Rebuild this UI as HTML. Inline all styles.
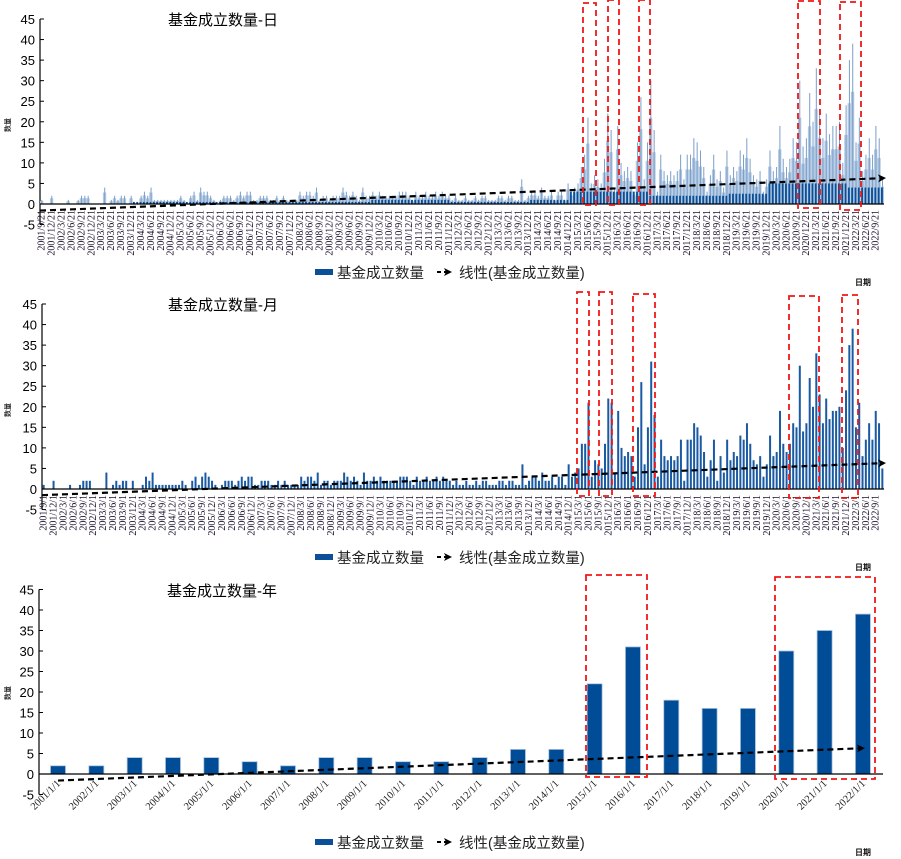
<!DOCTYPE html>
<html><head><meta charset="utf-8">
<style>
html,body{margin:0;padding:0;background:#fff;}
svg{display:block;}
text{font-family:"Liberation Sans","Noto Sans CJK SC",sans-serif;}
.tk{font-size:13px;fill:#000;}
.xl{font-family:"Liberation Serif","Noto Serif CJK SC",serif;font-size:10px;fill:#1a0f2a;}
.yl{font-family:"Liberation Serif",serif;font-size:10.5px;fill:#222;}
.ttl{font-size:15px;fill:#000;}
.lg{font-size:14.5px;fill:#222;}
</style></head>
<body>
<svg id="root" width="901" height="859" viewBox="0 0 901 859" xmlns="http://www.w3.org/2000/svg">
<defs>
<marker id="arr" markerWidth="8" markerHeight="8" refX="6" refY="4" orient="auto" markerUnits="userSpaceOnUse">
<path d="M0,0 L8,4 L0,8 L2,4 z" fill="#000"/>
</marker>
</defs>
</svg>
<script>
// ---- data ----
const yTicks = [-5,0,5,10,15,20,25,30,35,40,45];
const monthStartYear = 2001;
const monthStartMonth = 9;
const monthlyCounts = [
1,0,0,2,
0,0,0,0,1,0,0,1,2,2,2,0,
0,0,0,4,0,1,2,1,2,2,0,2,
0,0,1,3,2,4,1,1,1,1,1,1,
1,1,2,1,0,2,3,1,3,4,3,2,
1,0,1,2,2,2,1,2,3,2,3,3,
1,1,2,2,2,1,1,2,1,2,1,1,
1,1,3,2,3,3,2,4,1,2,2,1,
2,2,2,4,3,2,3,2,1,4,2,2,
3,2,3,2,2,2,2,2,3,3,3,2,
1,3,2,2,3,2,2,3,2,3,2,2,
1,2,1,1,2,1,1,2,1,2,2,1,
1,1,2,2,1,2,2,1,1,6,1,2,
3,3,2,4,2,2,3,1,3,3,1,6,
3,4,5,
11,11,21,3,7,6,5,11,22,21,
4,19,10,8,9,8,3,15,26,6,
15,31,18,3,12,8,7,8,7,8,
12,2,12,12,16,15,13,9,3,7,
12,2,8,4,12,7,9,8,13,12,
16,11,7,6,8,3,6,13,8,9,
19,11,9,11,16,15,30,14,16,27,
20,33,23,16,22,17,19,19,20,10,
24,35,39,15,21,8,12,16,12,19,
16,5];
const dailyPeak = [
1,0,0,2,
0,0,0,0,1,0,0,1,2,2,2,0,
0,0,0,4,0,1,2,1,2,2,0,2,
0,0,2,3,2,4,1,1,1,1,1,1,
1,1,2,1,0,2,3,1,4,3,3,2,
1,0,1,2,2,2,1,2,3,2,3,3,
1,1,2,2,2,1,1,2,1,2,1,1,
1,1,3,2,3,3,2,4,1,2,2,1,
2,2,2,4,3,2,3,2,1,4,2,2,
3,2,3,2,2,2,2,2,3,3,3,2,
1,3,2,2,3,2,2,3,2,3,2,2,
1,2,1,1,2,1,1,2,1,2,2,1,
1,1,2,2,1,2,2,1,1,6,1,2,
3,3,2,4,2,2,3,1,3,3,1,5,
3,4,5,
9,12,21,5,7,6,5,11,22,18,
4,19,10,8,9,8,3,15,26,6,
15,30,18,3,12,8,7,8,7,8,
12,6,12,12,16,15,13,9,3,7,
12,6,8,4,13,7,9,8,13,12,
16,11,7,6,8,3,6,13,8,9,
19,11,9,11,16,15,30,14,16,27,
20,33,23,16,22,17,19,19,20,10,
24,35,39,15,21,8,12,16,12,19,
16,6];
const dailyBaseYears = [2001,2002,2003,2004,2005,2006,2007,2008,2009,2010,2011,2012,2013,2014,2015,2016,2017,2018,2019,2020,2021,2022];
const dailyBase = [0,0,0,0.5,0.5,0.5,0.5,0.5,0.5,1,1,0.5,0.5,1,3,3,2,2,2.5,5,5,4];
const years = ["2001/1/1","2002/1/1","2003/1/1","2004/1/1","2005/1/1","2006/1/1","2007/1/1","2008/1/1","2009/1/1","2010/1/1","2011/1/1","2012/1/1","2013/1/1","2014/1/1","2015/1/1","2016/1/1","2017/1/1","2018/1/1","2019/1/1","2020/1/1","2021/1/1","2022/1/1"];
const yearlyCounts = [2,2,4,4,4,3,2,4,4,3,3,4,6,6,22,31,18,16,16,30,35,39];
const trendStart = [-1.6,-1.5,-1.6];
const trendEnd = [6.3,6.3,6.3];

// ---- layout (not data) ----
const NS = "http://www.w3.org/2000/svg";
const root = document.getElementById('root');
function el(tag, attrs, parent, txt){
  const e = document.createElementNS(NS, tag);
  for (const k in attrs) e.setAttribute(k, attrs[k]);
  if (txt !== undefined) e.textContent = txt;
  (parent||root).appendChild(e);
  return e;
}
const charts = [
  {axisX:40, zeroY:204, top:19, right:884, title:"基金成立数量-日", titleX:168, titleY:25, legY:272, dateY:285, yTitleY:125},
  {axisX:42, zeroY:489, top:304, right:884, title:"基金成立数量-月", titleX:168, titleY:310, legY:557, dateY:570, yTitleY:410},
  {axisX:39, zeroY:774, top:589.5, right:883, title:"基金成立数量-年", titleX:167, titleY:596, legY:842, dateY:855, yTitleY:693}
];
function yScale(c, v){ return c.zeroY - v*(c.zeroY - c.top)/45; }
const N = monthlyCounts.length;
function monthX(c, i){ const step=(c.right - c.axisX)/N; return c.axisX + (i+0.5)*step; }
function monthLabel(i, day){
  const t = (monthStartMonth-1) + i;
  return (monthStartYear + Math.floor(t/12)) + "/" + (t%12+1) + "/" + day;
}
function yearX(i){ return 58 + i*38.33; }

function drawFrame(c, idx){
  const g = el('g', {});
  
  
  const t = el('text', {x:c.titleX, y:c.titleY, class:'ttl'}, g, c.title);
  
  
  const yt = el('text', {x:0, y:0, transform:`translate(10,${c.yTitleY}) rotate(-90)`, 'font-size':'7', 'font-weight':'bold', fill:'#333', 'text-anchor':'middle'}, g, "数量");
  
  
  yTicks.forEach(v=>{
    const y = yScale(c, v);
    const tl = el('text', {x:c.axisX-5, y:y+5, class:'tk', 'text-anchor':'end'}, g, String(v));
    
    
    el('line', {x1:c.axisX, x2:c.axisX+4, y1:y, y2:y, stroke:'#000', 'stroke-width':1}, g);
  });
  const ax = el('line', {x1:c.axisX, x2:c.axisX, y1:c.top, y2:yScale(c,-5), stroke:'#000', 'stroke-width':1.2}, g);
  
  
  const lg = el('g', {}, g);
  
  
  el('rect', {x:315, y:c.legY-3, width:18, height:6, fill:'#0a4f98'}, lg);
  el('text', {x:337, y:c.legY+6, class:'lg'}, lg, "基金成立数量");
  el('line', {x1:437, x2:450, y1:c.legY, y2:c.legY, stroke:'#000', 'stroke-width':2, 'stroke-dasharray':'4,3', 'marker-end':'url(#arr)'}, lg);
  el('text', {x:459, y:c.legY+6, class:'lg'}, lg, "线性(基金成立数量)");
  const dt = el('text', {x:855, y:c.dateY, 'font-size':'8', 'font-weight':'bold', fill:'#111'}, g, "日期");
  
  
  return g;
}
function drawTrend(c, g, idx, x1, x2){
  const tr = el('line', {x1:x1, x2:x2, y1:yScale(c,trendStart[idx]), y2:yScale(c,trendEnd[idx]), stroke:'#000', 'stroke-width':2.2, 'stroke-dasharray':'6,4', 'marker-end':'url(#arr)'}, g);
  
  
}
function box(g, x, y, w, h){
  const b = el('rect', {x:x, y:y, width:w, height:h, fill:'none', stroke:'#f01818', 'stroke-width':1.8, 'stroke-dasharray':'6,4'}, g);
  
  
}

// ---- chart 1: daily ----
(function(){
  const c = charts[0];
  const g = drawFrame(c, 0);
  const step = (c.right - c.axisX)/N;
  for (let i=0;i<N;i++){
    const x = monthX(c,i) - step/2;
    const yr = monthStartYear + Math.floor((monthStartMonth-1+i)/12);
    const base = dailyBase[dailyBaseYears.indexOf(yr)];
    const p = dailyPeak[i];
    if (p>0){
      const b1 = el('rect', {x:x, y:yScale(c,p*0.7), width:step, height:c.zeroY-yScale(c,p*0.7), fill:'#b3c9e2'}, g);
      
      
      const b2 = el('rect', {x:x+step*0.4, y:yScale(c,p), width:1, height:c.zeroY-yScale(c,p), fill:'#7b9fca'}, g);
      
      
    }
    if (base>0){
      const h = Math.min(base, p||base);
      const b3 = el('rect', {x:x+step*0.1, y:yScale(c,h), width:step*0.55, height:c.zeroY-yScale(c,h), fill:'#0a4f98'}, g);
      
      
    }
  }
  el('line', {x1:c.axisX, x2:c.right, y1:c.zeroY, y2:c.zeroY, stroke:'#000', 'stroke-width':1.2}, g);
  for (let i=0;i<N;i+=3){
    const x = monthX(c,i)+3;
    const t = el('text', {x:0, y:0, transform:`translate(${x},${c.zeroY+6}) rotate(-90)`, class:'xl', 'text-anchor':'end'}, g, monthLabel(i,21));
    
    
  }
  drawTrend(c, g, 0, c.axisX, c.right);
  box(g,583,3,13,202); box(g,608,0,11,205); box(g,639,0,11,205); box(g,798,1,22,207); box(g,840,2,21,208);
})();

// ---- chart 2: monthly ----
(function(){
  const c = charts[1];
  const g = drawFrame(c, 1);
  for (let i=0;i<N;i++){
    const v = monthlyCounts[i];
    if (v<=0) continue;
    const x = monthX(c,i);
    const b = el('rect', {x:x-1, y:yScale(c,v), width:2, height:c.zeroY-yScale(c,v), fill:'#1a5aa3'}, g);
    
    
  }
  el('line', {x1:c.axisX, x2:c.right, y1:c.zeroY, y2:c.zeroY, stroke:'#000', 'stroke-width':1.2}, g);
  for (let i=0;i<N;i+=3){
    const x = monthX(c,i)+3;
    const t = el('text', {x:0, y:0, transform:`translate(${x},${c.zeroY+6}) rotate(-90)`, class:'xl', 'text-anchor':'end'}, g, monthLabel(i,1));
    
    
  }
  drawTrend(c, g, 1, c.axisX, c.right);
  box(g,577,292,12,204); box(g,599,292,13,204); box(g,633,294,22,202); box(g,789,296,30,202); box(g,842,295,16,203);
})();

// ---- chart 3: yearly ----
(function(){
  const c = charts[2];
  const g = drawFrame(c, 2);
  yearlyCounts.forEach((v,i)=>{
    const x = yearX(i);
    const b = el('rect', {x:x-7.5, y:yScale(c,v), width:15, height:c.zeroY-yScale(c,v), fill:'#004c97', stroke:'#a9c1dc', 'stroke-width':0.8}, g);
    
    
  });
  el('line', {x1:c.axisX, x2:c.right, y1:c.zeroY, y2:c.zeroY, stroke:'#000', 'stroke-width':1.2}, g);
  years.forEach((lab,i)=>{
    const x = yearX(i)+3;
    const t = el('text', {x:0, y:0, transform:`translate(${x},${c.zeroY+10}) rotate(-45)`, class:'yl', 'text-anchor':'end'}, g, lab);
    
    
  });
  drawTrend(c, g, 2, yearX(0), yearX(yearlyCounts.length-1));
  box(g,586,575,61,202); box(g,775,577,100,202);
})();
</script>
</body></html>
